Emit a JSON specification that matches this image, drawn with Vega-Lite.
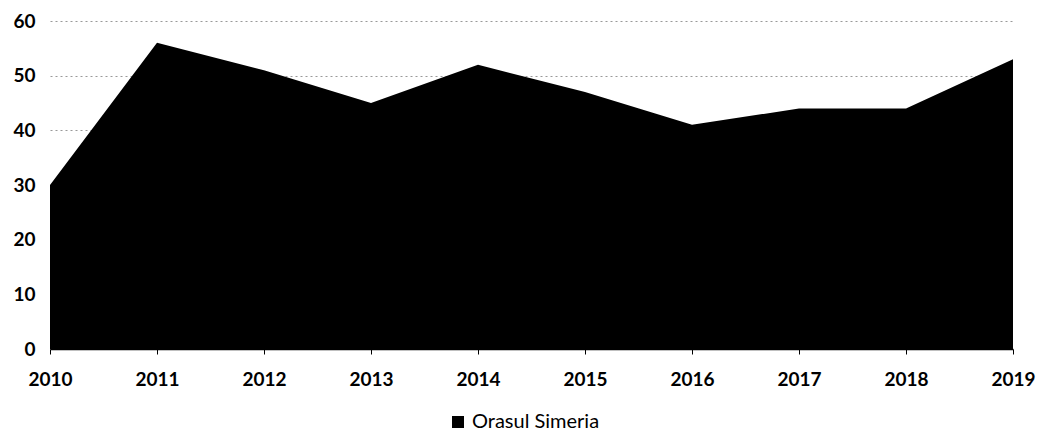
{
  "$schema": "https://vega.github.io/schema/vega-lite/v6.json",
  "autosize": "none",
  "width": 963,
  "height": 328,
  "padding": {"left": 50, "top": 21, "right": 24, "bottom": 87},
  "background": "white",
  "config": {
    "font": "Lato",
    "view": {"stroke": null}
  },
  "data": {
    "values": [
      {"year": 2010, "value": 30, "series": "Orasul Simeria"},
      {"year": 2011, "value": 56, "series": "Orasul Simeria"},
      {"year": 2012, "value": 51, "series": "Orasul Simeria"},
      {"year": 2013, "value": 45, "series": "Orasul Simeria"},
      {"year": 2014, "value": 52, "series": "Orasul Simeria"},
      {"year": 2015, "value": 47, "series": "Orasul Simeria"},
      {"year": 2016, "value": 41, "series": "Orasul Simeria"},
      {"year": 2017, "value": 44, "series": "Orasul Simeria"},
      {"year": 2018, "value": 44, "series": "Orasul Simeria"},
      {"year": 2019, "value": 53, "series": "Orasul Simeria"}
    ]
  },
  "mark": {"type": "area", "line": false, "opacity": 1},
  "encoding": {
    "x": {
      "field": "year",
      "type": "quantitative",
      "scale": {"domain": [2010, 2019], "nice": false, "zero": false},
      "axis": {
        "title": null,
        "values": [2010, 2011, 2012, 2013, 2014, 2015, 2016, 2017, 2018, 2019],
        "format": "d",
        "grid": false,
        "domainColor": "black",
        "domainWidth": 1.5,
        "tickColor": "black",
        "tickSize": 5,
        "labelFontSize": 19,
        "labelFontWeight": "bold",
        "labelColor": "black",
        "labelPadding": 16,
        "labelFlush": false
      }
    },
    "y": {
      "field": "value",
      "type": "quantitative",
      "scale": {"domain": [0, 60], "nice": false},
      "axis": {
        "title": null,
        "values": [0, 10, 20, 30, 40, 50, 60],
        "domain": false,
        "ticks": false,
        "grid": true,
        "gridColor": "#999999",
        "gridDash": [2, 3],
        "gridWidth": 1,
        "labelFontSize": 19,
        "labelFontWeight": "bold",
        "labelColor": "black",
        "labelPadding": 15
      }
    },
    "color": {
      "field": "series",
      "type": "nominal",
      "scale": {"range": ["black"]},
      "legend": {
        "title": null,
        "orient": "none",
        "legendX": 398,
        "legendY": 391,
        "symbolType": "square",
        "symbolSize": 144,
        "symbolStrokeWidth": 0,
        "labelFontSize": 20,
        "labelColor": "black",
        "labelOffset": 4
      }
    }
  }
}
